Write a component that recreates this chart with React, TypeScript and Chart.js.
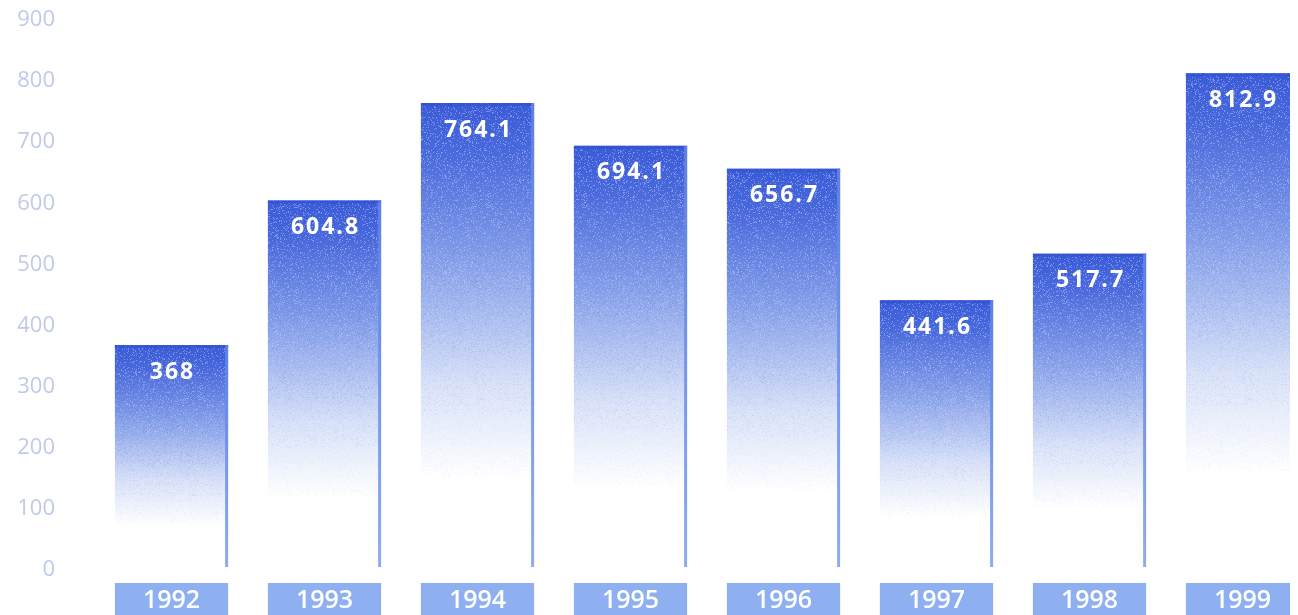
import React, { useEffect, useRef } from "react";
import { Chart, registerables } from "chart.js";

Chart.register(...registerables);

const categories = ["1992", "1993", "1994", "1995", "1996", "1997", "1998", "1999"];
const seriesValues = [368, 604.8, 764.1, 694.1, 656.7, 441.6, 517.7, 812.9];
const yTicks = [0, 100, 200, 300, 400, 500, 600, 700, 800, 900];

let noisePattern: CanvasPattern | null = null;
function getNoise(ctx: CanvasRenderingContext2D) {
  if (noisePattern) return noisePattern;
  const c = document.createElement("canvas");
  c.width = 96;
  c.height = 96;
  const g = c.getContext("2d")!;
  const img = g.createImageData(96, 96);
  for (let y = 0; y < 96; y++) {
    for (let x = 0; x < 96; x++) {
      const s = Math.sin(x * 12.9898 + y * 78.233) * 43758.5453;
      const h = s - Math.floor(s);
      const i = (y * 96 + x) * 4;
      if (h > 0.85) {
        img.data[i] = 70; img.data[i + 1] = 105; img.data[i + 2] = 220; img.data[i + 3] = 85;
      } else if (h < 0.13) {
        img.data[i] = 255; img.data[i + 1] = 255; img.data[i + 2] = 255; img.data[i + 3] = 100;
      }
    }
  }
  g.putImageData(img, 0, 0);
  noisePattern = ctx.createPattern(c, "repeat");
  return noisePattern;
}

const boxesPlugin = {
  id: "xBoxes",
  beforeDraw(chart: any) {
    const { ctx, chartArea } = chart;
    const meta = chart.getDatasetMeta(0);
    ctx.save();
    ctx.fillStyle = "#8fb0f0";
    meta.data.forEach((el: any) => {
      const w = el.width;
      ctx.fillRect(el.x - w / 2, chartArea.bottom + 13, w, chart.height - chartArea.bottom);
    });
    ctx.restore();
  },
};

const barDecorPlugin = {
  id: "barDecor",
  afterDatasetsDraw(chart: any) {
    const { ctx } = chart;
    const meta = chart.getDatasetMeta(0);
    const pat = getNoise(ctx);
    ctx.save();
    meta.data.forEach((el: any, i: number) => {
      const w = el.width;
      const left = el.x - w / 2;
      const top = el.y;
      const h = el.base - el.y;
      if (pat) {
        ctx.save();
        ctx.beginPath();
        ctx.rect(left, top, w, h);
        ctx.clip();
        const steps = 6;
        for (let k = 0; k < steps; k++) {
          ctx.globalAlpha = 0.8 * (1 - k / steps);
          ctx.fillStyle = pat;
          ctx.fillRect(left, top + (h * 0.8 * k) / steps, w, (h * 0.8) / steps + 0.5);
        }
        ctx.restore();
      }
      ctx.fillStyle = "rgba(50,80,210,0.7)";
      ctx.fillRect(left, top, w, 3);
      const g = ctx.createLinearGradient(0, top, 0, el.base);
      g.addColorStop(0, "#5c80e6");
      g.addColorStop(1, "#8eacf0");
      ctx.fillStyle = g;
      ctx.fillRect(left + w - 3, top, 3, h - 3);
      ctx.fillStyle = "#ffffff";
      ctx.font = '700 23px "Open Sans"';
      (ctx as any).letterSpacing = "2px";
      ctx.textAlign = "center";
      ctx.textBaseline = "middle";
      ctx.fillText(String(seriesValues[i]), el.x + 1, top + 27);
    });
    ctx.restore();
  },
};

export default function App() {
  const ref = useRef<HTMLCanvasElement | null>(null);
  useEffect(() => {
    if (!ref.current) return;
    const chart = new Chart(ref.current, {
      type: "bar",
      data: {
        labels: categories,
        datasets: [
          {
            data: seriesValues,
            borderWidth: 0,
            backgroundColor: (context: any) => {
              const c = context.chart;
              const ys = c.scales && c.scales.y;
              if (!ys || context.dataIndex === undefined) return "#3d5fd8";
              const v = seriesValues[context.dataIndex];
              const top = ys.getPixelForValue(v);
              const base = ys.getPixelForValue(0);
              if (!isFinite(top) || !isFinite(base) || base - top < 1) return "#3d5fd8";
              const g = c.ctx.createLinearGradient(0, top, 0, base);
              g.addColorStop(0, "#3a5bd7");
              g.addColorStop(0.1, "#4868dc");
              g.addColorStop(0.35, "#8aa3ea");
              g.addColorStop(0.6, "#d8e1f8");
              g.addColorStop(0.8, "#ffffff");
              g.addColorStop(1, "#ffffff");
              return g;
            },
            barPercentage: 0.74,
            categoryPercentage: 1,
          },
        ],
      },
      options: {
        animation: false,
        responsive: true,
        maintainAspectRatio: false,
        layout: { padding: { top: 12, left: 0, right: 0, bottom: 10 } },
        plugins: { legend: { display: false }, tooltip: { enabled: false } },
        scales: {
          x: {
            grid: { display: false, drawTicks: false },
            border: { display: false },
            ticks: {
              color: "#ffffff",
              padding: 16,
              font: { family: "Open Sans", size: 25, weight: 600, lineHeight: 1.2 },
            },
          },
          y: {
            min: 0,
            max: 900,
            afterFit: (s: any) => {
              s.width = 87;
              s.paddingTop = 0;
              s.paddingBottom = 0;
            },
            afterBuildTicks: (s: any) => {
              s.ticks = yTicks.map((v) => ({ value: v }));
            },
            grid: { display: false, drawTicks: false, tickLength: 0 },
            border: { display: false },
            ticks: {
              color: "#bfcaea",
              padding: 40,
              font: { family: "Open Sans", size: 22, lineHeight: 1 },
            },
          },
        },
      },
      plugins: [boxesPlugin, barDecorPlugin],
    });
    return () => chart.destroy();
  }, []);
  return (
    <div style={{ width: 1290, height: 607, overflow: "hidden", position: "relative" }}>
      <div style={{ width: 1311, height: 634, position: "relative" }}>
        <canvas ref={ref} />
      </div>
    </div>
  );
}
